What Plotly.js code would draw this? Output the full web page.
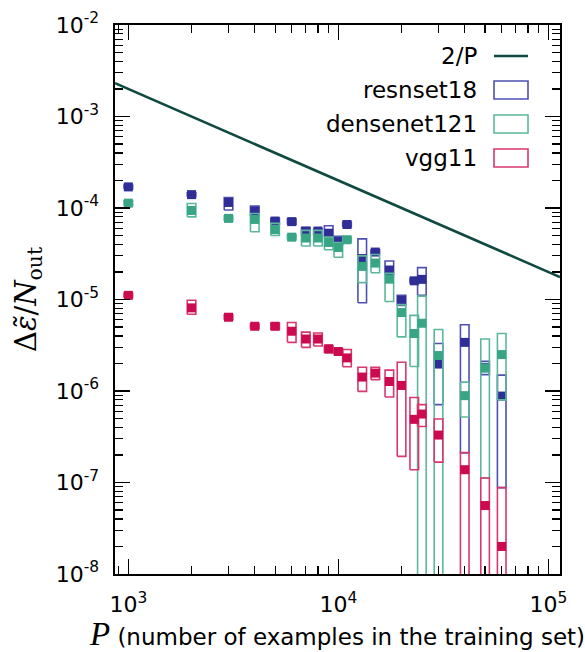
<!DOCTYPE html>
<html>
<head>
<meta charset="utf-8">
<script src="https://cdn.plot.ly/plotly-3.0.1.min.js"></script>
<style>html,body{margin:0;padding:0;background:#fff;}#chart{width:585px;height:652px;}</style>
</head>
<body>
<div id="chart"></div>
<script>
// ---- data ----
const P = [1000,2000,3000,4000,5000,6000,7000,8000,9000,10000,11000,13000,15000,17500,20000,23000,25000,30000,40000,50000,60000];

const resnetMean = [1.70e-4,1.40e-4,1.15e-4,9.3e-5,7.2e-5,7.1e-5,5.6e-5,5.6e-5,5.3e-5,4.3e-5,6.6e-5,2.8e-5,3.3e-5,2.1e-5,9.8e-6,1.6e-5,1.66e-5,1.97e-6,3.4e-6,1.8e-6,8.8e-7];
const resnetLow  = [1.62e-4,1.33e-4,9.5e-5,8.2e-5,6.7e-5,6.6e-5,5.0e-5,5.0e-5,4.75e-5,4.0e-5,6.2e-5,9.2e-6,3.1e-5,1.88e-5,8.6e-6,1.5e-5,1.11e-5,7.1e-7,2.1e-7,1.51e-6,8.8e-8];
const resnetHigh = [1.78e-4,1.47e-4,1.30e-4,1.05e-4,7.7e-5,7.6e-5,6.1e-5,5.9e-5,6.4e-5,4.9e-5,7.0e-5,4.6e-5,3.5e-5,2.63e-5,1.11e-5,1.7e-5,2.23e-5,3.3e-6,5.3e-6,2.11e-6,1.49e-6];

const densenetMean = [1.13e-4,9.4e-5,7.7e-5,7.5e-5,5.8e-5,4.8e-5,4.7e-5,4.7e-5,4.2e-5,3.7e-5,4.5e-5,2.3e-5,2.5e-5,1.67e-5,7.2e-6,4.25e-6,5.5e-6,2.44e-6,8.9e-7,1.78e-6,2.5e-6];
const densenetLow  = [1.06e-4,8.0e-5,7.2e-5,5.5e-5,5.0e-5,4.5e-5,3.85e-5,3.85e-5,3.5e-5,2.9e-5,4.2e-5,1.53e-5,1.96e-5,9.5e-6,3.9e-6,1.85e-6,1e-9,1e-9,5.2e-7,1.12e-7,8.0e-7];
const densenetHigh = [1.20e-4,1.12e-4,8.2e-5,8.7e-5,6.8e-5,5.1e-5,5.7e-5,5.7e-5,4.8e-5,4.2e-5,4.8e-5,3.0e-5,3.1e-5,1.93e-5,8.8e-6,6.7e-6,1.09e-5,4.7e-6,1.25e-6,3.7e-6,4.25e-6];

const vggMean = [1.11e-5,8.1e-6,6.4e-6,5.1e-6,5.1e-6,4.5e-6,3.7e-6,3.7e-6,2.9e-6,2.7e-6,2.3e-6,1.42e-6,1.57e-6,1.27e-6,1.15e-6,4.9e-7,5.6e-7,3.3e-7,1.38e-7,5.6e-8,2.0e-8];
const vggLow  = [1.05e-5,6.9e-6,6.0e-6,4.8e-6,4.7e-6,3.4e-6,3.0e-6,3.1e-6,2.6e-6,2.5e-6,1.84e-6,9.9e-7,1.33e-6,8.6e-7,1.93e-7,1.38e-7,4.1e-7,1.67e-7,1e-9,1e-9,1e-9];
const vggHigh = [1.17e-5,9.8e-6,6.8e-6,5.4e-6,5.5e-6,5.6e-6,4.4e-6,4.3e-6,3.1e-6,2.9e-6,2.84e-6,1.82e-6,1.82e-6,1.69e-6,2.06e-6,8.5e-7,7.1e-7,4.95e-7,2.13e-7,1.12e-7,8.8e-8];

const seriesNames = ['resnset18','densenet121','vgg11'];
const lineName = '2/P';
const xTickVals = [1e3,1e4,1e5];
const xTickText = ['10<sup>3</sup>','10<sup>4</sup>','10<sup>5</sup>'];
const yTickVals = [1e-8,1e-7,1e-6,1e-5,1e-4,1e-3,1e-2];
const yTickText = ['10<sup>-8</sup>','10<sup>-7</sup>','10<sup>-6</sup>','10<sup>-5</sup>','10<sup>-4</sup>','10<sup>-3</sup>','10<sup>-2</sup>'];

// ---- styling ----
const colors = ['#2e2e96','#38a585','#cc0a50'];
const boxColors = ['#5050b0','#5cb89c','#d8386e'];
const lineColor = '#0e4a40';
const xRange = [Math.log10(864), Math.log10(113700)];
const yRange = [-8, -2];
const halfW = Math.pow(10, 4.3/210);

function rectPaths(x, lo, hi){
  const xs=[], ys=[];
  for(let i=0;i<x.length;i++){
    const a=x[i]/halfW, b=x[i]*halfW;
    xs.push(a,b,b,a,a,null);
    ys.push(lo[i],lo[i],hi[i],hi[i],lo[i],null);
  }
  return {xs, ys};
}
function minorVals(lo, hi){
  const v=[];
  for(let e=lo;e<=hi;e++) for(let m=2;m<=9;m++) v.push(m*Math.pow(10,e));
  return v;
}

const means=[resnetMean,densenetMean,vggMean];
const lows=[resnetLow,densenetLow,vggLow];
const highs=[resnetHigh,densenetHigh,vggHigh];

const traces=[];
const lx=[Math.pow(10,xRange[0]), Math.pow(10,xRange[1])];
traces.push({x:lx, y:lx.map(p=>2/p), mode:'lines', line:{color:lineColor,width:2.6}, name:lineName, showlegend:false, hoverinfo:'skip'});
for(let s=0;s<3;s++){
  const r=rectPaths(P,lows[s],highs[s]);
  traces.push({x:r.xs,y:r.ys,mode:'lines',line:{color:boxColors[s],width:1.6},connectgaps:false,name:seriesNames[s],showlegend:false,hoverinfo:'skip'});
  traces.push({x:P,y:means[s],mode:'markers',marker:{symbol:'square',size:9,color:colors[s],line:{width:0}},name:seriesNames[s],showlegend:false});
}

// manual legend (text left of symbol)
const plotL=115, plotR=560, plotT=25, plotB=574;
const pw=plotR-plotL, ph=plotB-plotT;
const px=v=>(v-plotL)/pw, py=v=>1-(v-plotT)/ph;
const legRows=[56,90,124,158];
const legLabels=[lineName].concat(seriesNames);
const annotations=legLabels.map((t,i)=>({xref:'paper',yref:'paper',x:px(479),y:py(legRows[i]),xanchor:'right',yanchor:'middle',text:t,showarrow:false,font:{family:'DejaVu Sans',size:23,color:'#000'}}));
const shapes=[{type:'line',xref:'paper',yref:'paper',x0:px(494),x1:px(528),y0:py(legRows[0]),y1:py(legRows[0]),line:{color:lineColor,width:2.6}}];
for(let s=0;s<3;s++){
  shapes.push({type:'rect',xref:'paper',yref:'paper',x0:px(494),x1:px(528),y0:py(legRows[s+1]+9),y1:py(legRows[s+1]-9),line:{color:boxColors[s],width:1.6},fillcolor:'rgba(0,0,0,0)'});
}

const axisCommon={type:'log',showgrid:false,zeroline:false,showline:true,linecolor:'#000',linewidth:1.6,mirror:'allticks',ticks:'inside',ticklen:15,tickwidth:1.2,tickcolor:'#000',tickmode:'array',tickfont:{family:'DejaVu Sans',size:22,color:'#000'}};

const layout={
  width:585,height:652,
  margin:{l:plotL,r:585-plotR,t:plotT,b:652-plotB},
  paper_bgcolor:'#fff',plot_bgcolor:'#fff',
  showlegend:false,
  xaxis:Object.assign({},axisCommon,{range:xRange,tickvals:xTickVals,ticktext:xTickText,ticklabelstandoff:10,
    minor:{ticks:'inside',ticklen:8,tickwidth:1.2,tickcolor:'#000',tickmode:'array',tickvals:minorVals(2,5),showgrid:false},
    title:{text:'<span style="font-family:Liberation Serif;font-size:33px"><i>P</i></span> (number of examples in the training set)',font:{family:'DejaVu Sans',size:23,color:'#000'},standoff:4}}),
  yaxis:Object.assign({},axisCommon,{range:yRange,tickvals:yTickVals,ticktext:yTickText,ticklabelstandoff:10,
    minor:{ticks:'inside',ticklen:8,tickwidth:1.2,tickcolor:'#000',tickmode:'array',tickvals:minorVals(-8,-3),showgrid:false},
    title:{text:'Δ<i>ε̃</i>/<i>N</i><sub>out</sub>',font:{family:'DejaVu Serif',size:29,color:'#000'},standoff:10}}),
  annotations:annotations,
  shapes:shapes
};

Plotly.newPlot('chart',traces,layout,{staticPlot:true,displayModeBar:false});
</script>
</body>
</html>
